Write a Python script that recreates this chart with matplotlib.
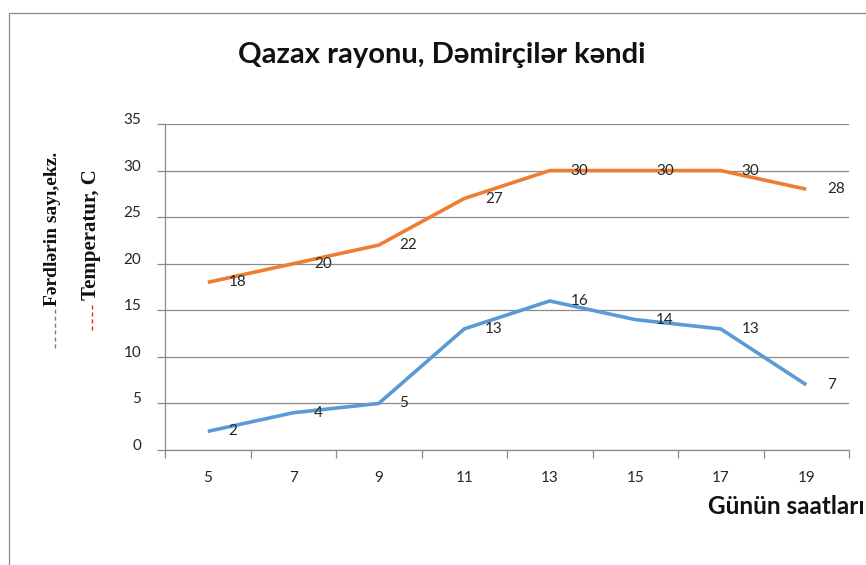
import matplotlib
matplotlib.use("Agg")
import matplotlib.pyplot as plt
from matplotlib.patches import Rectangle
from matplotlib.lines import Line2D

hours = ["5", "7", "9", "11", "13", "15", "17", "19"]
individuals = [2, 4, 5, 13, 16, 14, 13, 7]
temperature = [18, 20, 22, 27, 30, 30, 30, 28]
yticks = [0, 5, 10, 15, 20, 25, 30, 35]

title = "Qazax rayonu, Dəmirçilər kəndi"
xlabel = "Günün saatları"
ylabel1 = "Fərdlərin sayı,ekz."
ylabel2 = "Temperatur, C"

W, H = 866, 565
fig = plt.figure(figsize=(W / 100, H / 100), dpi=100)
ax = fig.add_axes([165 / W, 1 - 450 / H, (849 - 165) / W, (450 - 124) / H])

sans = ["Lato", "DejaVu Sans"]
serif = ["Liberation Serif", "DejaVu Serif"]

grid_c = "#8a8a8a"
blue = "#5B9BD5"
orange = "#ED7D31"
txt_c = "#262626"

x = list(range(len(hours)))
ax.plot(x, individuals, color=blue, lw=2.6, solid_capstyle="butt", zorder=3)
ax.plot(x, temperature, color=orange, lw=2.6, solid_capstyle="butt", zorder=3)

for xi, v in zip(x, individuals):
    ax.annotate(str(v), (xi, v), xytext=(15, 0), textcoords="offset points",
                ha="left", va="center", fontsize=11, family=sans, color=txt_c)
for xi, v in zip(x, temperature):
    ax.annotate(str(v), (xi, v), xytext=(15, 0), textcoords="offset points",
                ha="left", va="center", fontsize=11, family=sans, color=txt_c)

ax.set_xlim(-0.5, len(hours) - 0.5)
ax.set_ylim(0, 35)
ax.set_yticks(yticks)
ax.set_yticklabels([str(t) for t in yticks], family=sans, fontsize=11, color=txt_c)
for lab in ax.get_yticklabels():
    lab.set_verticalalignment("baseline")
ax.yaxis.grid(True, color=grid_c, lw=0.9)
ax.set_axisbelow(True)

ax.set_xticks([i - 0.5 for i in range(len(hours) + 1)])
ax.set_xticklabels([])
ax.set_xticks(x, minor=True)
ax.set_xticklabels(hours, minor=True, family=sans, fontsize=11, color=txt_c)
ax.tick_params(axis="x", which="major", length=6, color=grid_c, width=0.9, direction="out")
ax.tick_params(axis="x", which="minor", length=0, pad=15)
ax.tick_params(axis="y", length=6, color=grid_c, width=0.9, pad=11)

for s in ["top", "right"]:
    ax.spines[s].set_visible(False)
for s in ["left", "bottom"]:
    ax.spines[s].set_color(grid_c)
    ax.spines[s].set_linewidth(0.9)

fig.text(442 / W, 1 - 55 / H, title, ha="center", va="center",
         fontsize=21, fontweight="bold", family=sans, color="#111111")
fig.text(708 / W, 1 - 507 / H, xlabel, ha="left", va="center",
         fontsize=17.5, fontweight="bold", family=sans, color="#111111")

# rotated y labels with coloured dash prefixes
fig.text(53 / W, 1 - 306 / H, ylabel1, rotation=90, ha="center", va="bottom",
         fontsize=14, fontweight="bold", family=serif, color="#111111")
fig.add_artist(Line2D([55 / W, 55 / W], [1 - 348 / H, 1 - 308 / H],
                      transform=fig.transFigure, color="#7080a0", lw=1.0,
                      dashes=(3, 2)))
fig.text(91 / W, 1 - 300 / H, ylabel2, rotation=90, ha="center", va="bottom",
         fontsize=15, fontweight="bold", family=serif, color="#111111")
fig.add_artist(Line2D([92 / W, 92 / W], [1 - 330 / H, 1 - 302 / H],
                      transform=fig.transFigure, color="#ff2020", lw=1.0,
                      dashes=(3, 2)))

fig.patches.append(Rectangle((8.5 / W, -0.2), 1.5, 1 - 12.5 / H + 0.2,
                             transform=fig.transFigure, fill=False,
                             edgecolor="#888888", lw=0.9, clip_on=False))

fig.savefig("out.png", dpi=100)
